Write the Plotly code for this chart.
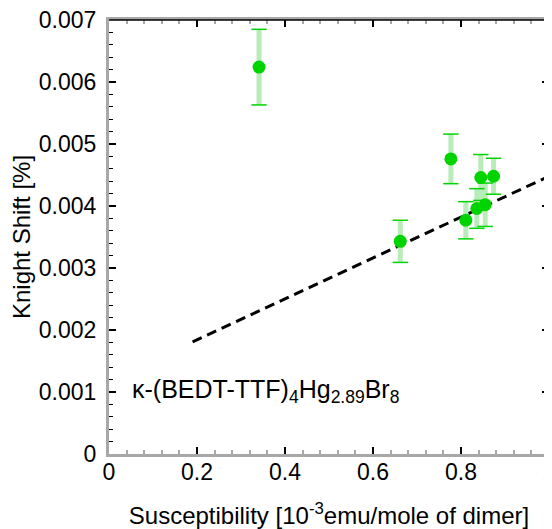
import plotly.graph_objects as go

susceptibility = [0.341, 0.662, 0.777, 0.811, 0.836, 0.845, 0.855, 0.874]
knight_shift = [0.00624, 0.00343, 0.00476, 0.00377, 0.00396, 0.00446, 0.00402, 0.00448]
shift_error = [0.00061, 0.00034, 0.00040, 0.00030, 0.00032, 0.00037, 0.00035, 0.00029]

fit_x = [0.19, 1.0]
fit_y = [0.00181, 0.00448]

x_ticks = [0, 0.2, 0.4, 0.6, 0.8, 1]
x_tick_labels = ["0", "0.2", "0.4", "0.6", "0.8", "1"]
y_ticks = [0, 0.001, 0.002, 0.003, 0.004, 0.005, 0.006, 0.007]
y_tick_labels = ["0", "0.001", "0.002", "0.003", "0.004", "0.005", "0.006", "0.007"]

GREEN = "#00d400"
LIGHT = "#b8ecb8"
FONT = "Liberation Sans, Arial, sans-serif"

fig = go.Figure()

fig.add_trace(go.Scatter(
    x=fit_x, y=fit_y, mode="lines",
    line=dict(color="black", width=3, dash="10px,6px"),
    hoverinfo="skip", showlegend=False,
))

fig.add_trace(go.Scatter(
    x=susceptibility, y=knight_shift, mode="markers",
    marker=dict(color="rgba(0,0,0,0)", size=1),
    error_y=dict(type="data", array=shift_error, visible=True,
                 color=LIGHT, thickness=5, width=0),
    hoverinfo="skip", showlegend=False,
))

caps_x = susceptibility + susceptibility
caps_y = [v + e for v, e in zip(knight_shift, shift_error)] + \
         [v - e for v, e in zip(knight_shift, shift_error)]
fig.add_trace(go.Scatter(
    x=caps_x, y=caps_y, mode="markers",
    marker=dict(symbol="line-ew", size=11, line=dict(color=GREEN, width=1.5)),
    hoverinfo="skip", showlegend=False,
))

fig.add_trace(go.Scatter(
    x=susceptibility, y=knight_shift, mode="markers",
    marker=dict(color=GREEN, size=13, line=dict(width=0)),
    showlegend=False,
))

fig.add_annotation(
    x=0.048, y=0.00101, xref="x", yref="y", xanchor="left", yanchor="middle",
    text="κ-(BEDT-TTF)<sub>4</sub>Hg<sub>2.89</sub>Br<sub>8</sub>",
    showarrow=False, font=dict(family=FONT, size=25, color="black"),
)

# black top frame line
fig.add_shape(type="line", xref="paper", yref="paper", x0=0, x1=1, y0=1, y1=1,
              line=dict(color="black", width=1.5))

axis_common = dict(
    showgrid=False, zeroline=False, showline=True, linecolor="#a8a8a8",
    linewidth=3, mirror="ticks", ticks="inside", ticklen=7, tickwidth=1.5,
    tickcolor="black", automargin=False, ticklabeloverflow="allow",
    tickfont=dict(family=FONT, size=23, color="black"),
)

fig.update_xaxes(
    range=[0, 1], tickvals=x_ticks, ticktext=x_tick_labels,
    ticklabelstandoff=-5,
    minor=dict(dtick=0.04, ticks="inside", ticklen=4, tickcolor="#a8a8a8", tickwidth=1.5),
    title=dict(text="Susceptibility [10<sup>-3</sup>emu/mole of dimer]",
               font=dict(family=FONT, size=24, color="black"), standoff=30),
    **axis_common,
)
fig.update_yaxes(
    range=[0, 0.007], tickvals=y_ticks, ticktext=y_tick_labels,
    ticklabelstandoff=5,
    minor=dict(dtick=0.0002, ticks="inside", ticklen=4, tickcolor="black", tickwidth=1),
    title=dict(text="Knight Shift [%]",
               font=dict(family=FONT, size=24, color="black"), standoff=2),
    **axis_common,
)

# page body adds an 8px offset, so the figure is sized to fit the 552x529 window
fig.update_layout(
    width=544, height=521,
    margin=dict(l=101, r=3, t=12, b=75),
    plot_bgcolor="white", paper_bgcolor="white",
)

fig.write_html("out.html")
